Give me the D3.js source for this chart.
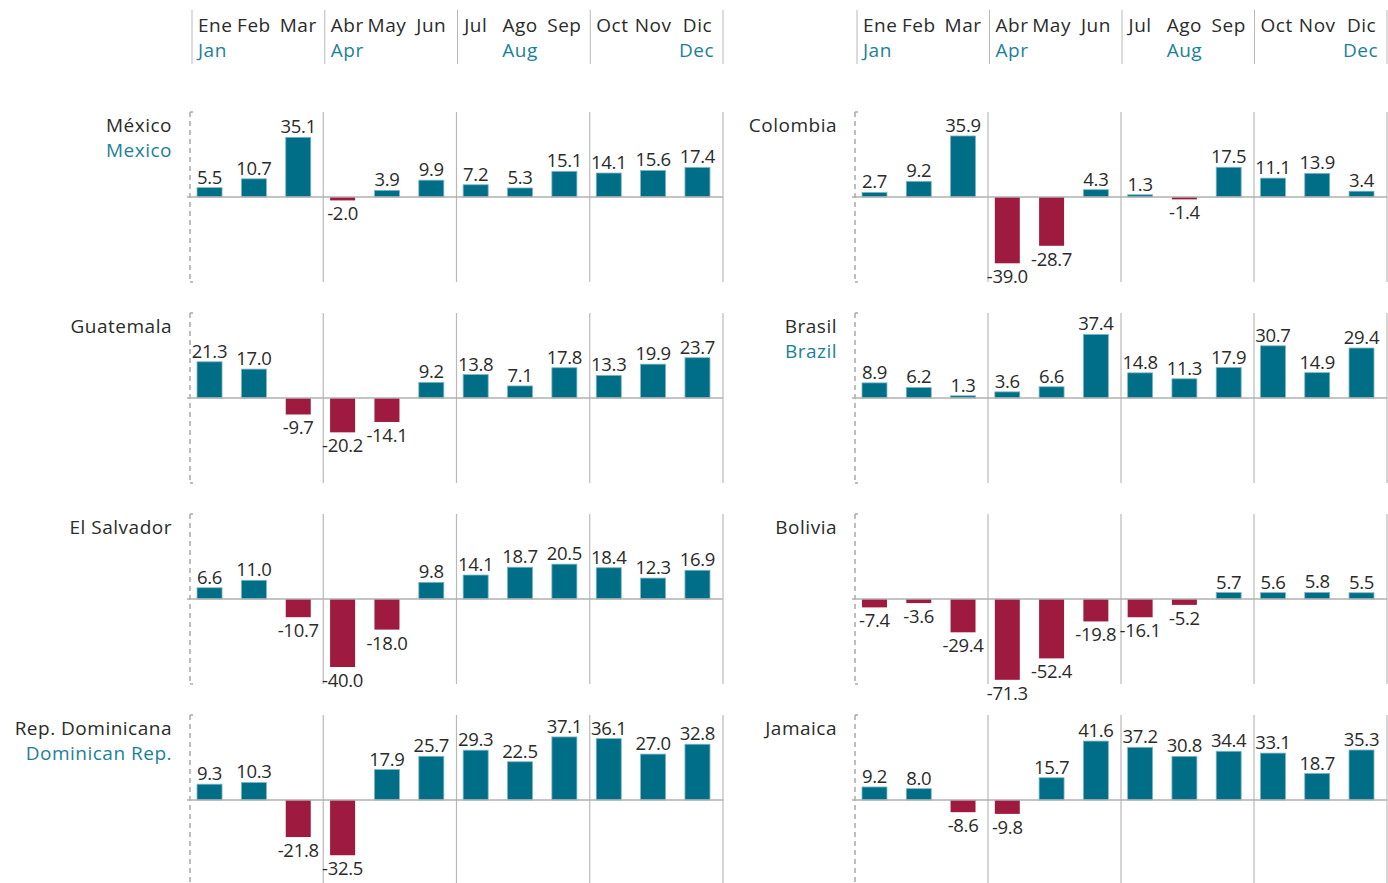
<!DOCTYPE html>
<html>
<head>
<meta charset="utf-8">
<script src="https://cdn.jsdelivr.net/npm/d3@7"></script>
<style>
  html, body { margin: 0; padding: 0; background: #ffffff; }
  svg { display: block; font-family: "Open Sans", "Noto Sans", sans-serif; }
</style>
</head>
<body>
<svg id="chart" width="1388" height="883"></svg>
<script>
// Month names (Spanish header row) and the English names shown beneath
const monthsEs = ["Ene", "Feb", "Mar", "Abr", "May", "Jun", "Jul", "Ago", "Sep", "Oct", "Nov", "Dic"];
const monthsEn = ["Jan", "", "", "Apr", "", "", "", "Aug", "", "", "", "Dec"];

// Country names, Spanish and English (blank when identical)
const countriesEs = ["México", "Guatemala", "El Salvador", "Rep. Dominicana",
                     "Colombia", "Brasil", "Bolivia", "Jamaica"];
const countriesEn = ["Mexico", "", "", "Dominican Rep.",
                     "", "Brazil", "", ""];

// Monthly year-on-year change (%)
const mexico      = [5.5, 10.7, 35.1, -2.0, 3.9, 9.9, 7.2, 5.3, 15.1, 14.1, 15.6, 17.4];
const guatemala   = [21.3, 17.0, -9.7, -20.2, -14.1, 9.2, 13.8, 7.1, 17.8, 13.3, 19.9, 23.7];
const elSalvador  = [6.6, 11.0, -10.7, -40.0, -18.0, 9.8, 14.1, 18.7, 20.5, 18.4, 12.3, 16.9];
const repDom      = [9.3, 10.3, -21.8, -32.5, 17.9, 25.7, 29.3, 22.5, 37.1, 36.1, 27.0, 32.8];
const colombia    = [2.7, 9.2, 35.9, -39.0, -28.7, 4.3, 1.3, -1.4, 17.5, 11.1, 13.9, 3.4];
const brasil      = [8.9, 6.2, 1.3, 3.6, 6.6, 37.4, 14.8, 11.3, 17.9, 30.7, 14.9, 29.4];
const bolivia     = [-7.4, -3.6, -29.4, -71.3, -52.4, -19.8, -16.1, -5.2, 5.7, 5.6, 5.8, 5.5];
const jamaica     = [9.2, 8.0, -8.6, -9.8, 15.7, 41.6, 37.2, 30.8, 34.4, 33.1, 18.7, 35.3];

const seriesValues = [mexico, guatemala, elSalvador, repDom, colombia, brasil, bolivia, jamaica];

// Symmetric y-axis extent for each panel
const axisMax = [50, 50, 50, 50, 50, 50, 75, 60];

// ---- layout ----
const svg = d3.select("#chart");
const TEAL = "#006e87", RED = "#9e1b3f", TEXT = "#2b2b2b", EN = "#1b8198";
const GRID = "#b9b9b9";
const LABEL_SIZE = 19, LABEL_SPACING = 0.5;

const columns = [{ x0: 190, x1: 723 }, { x0: 855, x1: 1387 }];
const rowTop0 = 112, rowStep = 201, panelH = 170;

function monthBand(col) {
  return d3.scaleBand().domain(monthsEs)
    .range([col.x0, col.x1])
    .paddingInner(0.436).paddingOuter(0.226).align(0.35);
}

function drawHeader(col) {
  const g = svg.append("g");
  const hx = d3.scaleLinear().domain([0, 4]).range([col.x0 + 2, col.x1]);
  g.selectAll("line.q").data(d3.range(5)).join("line")
    .attr("x1", d => hx(d)).attr("x2", d => hx(d))
    .attr("y1", 10).attr("y2", 64)
    .attr("stroke", GRID).attr("stroke-width", 1);

  const xb = monthBand(col);
  monthsEs.forEach((m, i) => {
    const q = Math.floor(i / 3);
    const t = g.append("text")
      .attr("y", 32)
      .attr("font-size", LABEL_SIZE)
      .attr("letter-spacing", LABEL_SPACING)
      .attr("fill", TEXT)
      .attr("text-anchor", "middle")
      .text(m);
    const w = t.node().getComputedTextLength();
    let cx = xb(m) + xb.bandwidth() / 2;
    cx = Math.max(cx, hx(q) + 6 + w / 2);
    cx = Math.min(cx, hx(q + 1) - 5 - w / 2);
    t.attr("x", cx);

    if (monthsEn[i]) {
      const pos = i % 3;
      const anchor = pos === 0 ? "start" : pos === 2 ? "end" : "middle";
      const ex = pos === 0 ? cx - w / 2 : pos === 2 ? cx + w / 2 + 2 : cx;
      g.append("text")
        .attr("x", ex).attr("y", 57)
        .attr("font-size", LABEL_SIZE)
        .attr("letter-spacing", LABEL_SPACING)
        .attr("fill", EN)
        .attr("text-anchor", anchor)
        .text(monthsEn[i]);
    }
  });
}

function drawPanel(idx) {
  const col = columns[Math.floor(idx / 4)];
  const row = idx % 4;
  const top = rowTop0 + row * rowStep;
  const bottom = Math.min(top + panelH, 883);
  const vals = seriesValues[idx];

  const x = monthBand(col);
  const y = d3.scaleLinear().domain([-axisMax[idx], axisMax[idx]]).range([top + panelH, top]);
  const qx = d3.scaleLinear().domain([0, 4]).range([col.x0, col.x1]);
  const g = svg.append("g");

  // quarter separators
  g.selectAll("line.q").data([1, 2, 3, 4]).join("line")
    .attr("x1", d => qx(d)).attr("x2", d => qx(d))
    .attr("y1", top).attr("y2", bottom)
    .attr("stroke", GRID).attr("stroke-width", 1.2);

  // dashed left axis with bracket ends
  g.append("line")
    .attr("x1", col.x0).attr("x2", col.x0)
    .attr("y1", top).attr("y2", bottom)
    .attr("stroke", "#a9a9a9").attr("stroke-width", 1.5)
    .attr("stroke-dasharray", "5,4");
  [top, bottom].forEach(yy => {
    if (yy >= 883) return;
    g.append("line")
      .attr("x1", col.x0).attr("x2", col.x0 + 3)
      .attr("y1", yy).attr("y2", yy)
      .attr("stroke", "#a9a9a9").attr("stroke-width", 1.5);
  });

  // bars
  g.selectAll("rect.bar").data(vals).join("rect")
    .attr("x", (d, i) => x(monthsEs[i]))
    .attr("width", x.bandwidth())
    .attr("y", d => y(Math.max(0, d)))
    .attr("height", d => Math.abs(y(d) - y(0)))
    .attr("fill", d => d >= 0 ? TEAL : RED)
    .attr("stroke", d => d >= 0 ? "#7db7c4" : "none")
    .attr("stroke-width", 0.8);

  // zero line
  g.append("line")
    .attr("x1", col.x0 - 3).attr("x2", col.x1)
    .attr("y1", y(0)).attr("y2", y(0))
    .attr("stroke", "#b0b0b0").attr("stroke-width", 1.6);

  // value labels
  g.selectAll("text.val").data(vals).join("text")
    .attr("x", (d, i) => x(monthsEs[i]) + x.bandwidth() / 2)
    .attr("y", d => d >= 0 ? y(d) - 4 : y(d) + 20)
    .attr("text-anchor", "middle")
    .attr("font-size", 18.5)
    .attr("letter-spacing", -0.3)
    .attr("fill", TEXT)
    .text(d => d.toFixed(1));

  // country names
  g.append("text")
    .attr("x", col.x0 - 18).attr("y", top + 20)
    .attr("text-anchor", "end")
    .attr("font-size", LABEL_SIZE).attr("letter-spacing", LABEL_SPACING)
    .attr("fill", TEXT)
    .text(countriesEs[idx]);
  if (countriesEn[idx]) {
    g.append("text")
      .attr("x", col.x0 - 18).attr("y", top + 45)
      .attr("text-anchor", "end")
      .attr("font-size", LABEL_SIZE).attr("letter-spacing", LABEL_SPACING)
      .attr("fill", EN)
      .text(countriesEn[idx]);
  }
}

columns.forEach(drawHeader);
d3.range(8).forEach(drawPanel);
</script>
</body>
</html>
